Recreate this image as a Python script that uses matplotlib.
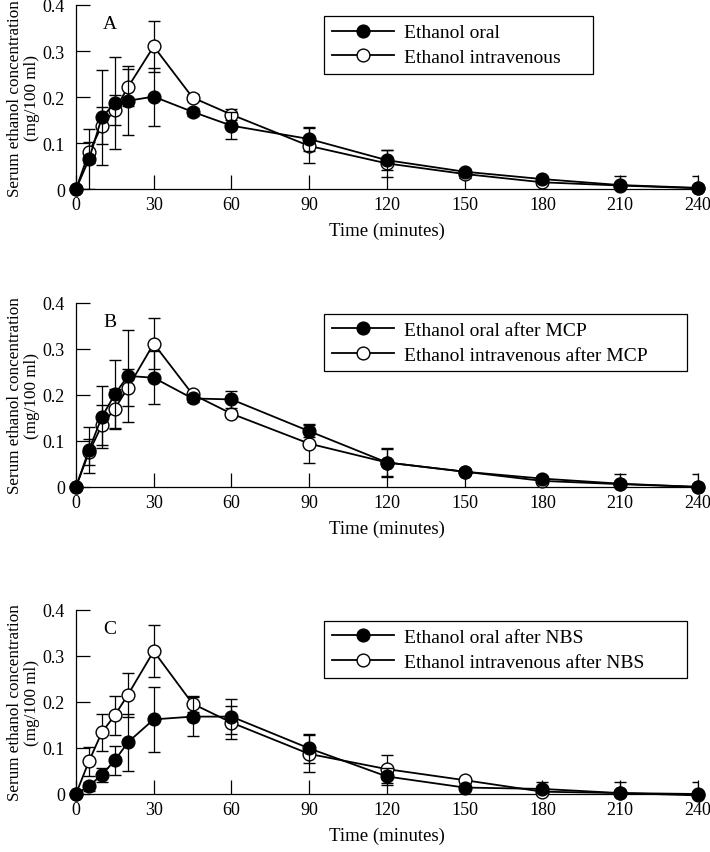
import matplotlib
matplotlib.use("Agg")
import matplotlib.pyplot as plt
from matplotlib.lines import Line2D

plt.rcParams['font.family'] = ['Liberation Serif', 'DejaVu Serif']

# time points (minutes)
t = [0, 5, 10, 15, 20, 30, 45, 60, 90, 120, 150, 180, 210, 240]

# panel A
oral_a = [0, 0.065, 0.156, 0.187, 0.192, 0.201, 0.168, 0.138, 0.109, 0.063, 0.038, 0.022, 0.009, 0.003]
oral_a_sd = [0, 0.065, 0.103, 0.10, 0.075, 0.063, 0.008, 0.03, 0.025, 0.022, 0.006, 0.005, 0.02, 0.026]
iv_a = [0, 0.08, 0.138, 0.172, 0.221, 0.31, 0.199, 0.162, 0.094, 0.056, 0.033, 0.015, 0.008, 0.002]
iv_a_sd = [0, 0.022, 0.04, 0.032, 0.04, 0.056, 0.008, 0.012, 0.038, 0.029, 0.008, 0.006, 0.004, 0.003]

# panel B
oral_b = [0, 0.080, 0.152, 0.201, 0.241, 0.237, 0.192, 0.190, 0.121, 0.053, 0.033, 0.018, 0.007, 0.0]
oral_b_sd = [0, 0.05, 0.067, 0.075, 0.1, 0.058, 0.008, 0.019, 0.013, 0.032, 0.006, 0.005, 0.02, 0.027]
iv_b = [0, 0.075, 0.134, 0.170, 0.215, 0.311, 0.201, 0.159, 0.094, 0.053, 0.033, 0.013, 0.006, 0.0]
iv_b_sd = [0, 0.028, 0.043, 0.043, 0.04, 0.056, 0.006, 0.008, 0.043, 0.03, 0.005, 0.005, 0.004, 0.003]

# panel C
oral_c = [0, 0.017, 0.042, 0.073, 0.112, 0.162, 0.168, 0.168, 0.099, 0.038, 0.014, 0.011, 0.002, 0.0]
oral_c_sd = [0, 0.01, 0.015, 0.032, 0.062, 0.071, 0.043, 0.038, 0.032, 0.018, 0.005, 0.016, 0.025, 0.027]
iv_c = [0, 0.071, 0.134, 0.171, 0.215, 0.310, 0.196, 0.155, 0.087, 0.054, 0.030, 0.005, 0.002, -0.003]
iv_c_sd = [0, 0.032, 0.04, 0.042, 0.047, 0.057, 0.017, 0.035, 0.04, 0.03, 0.004, 0.004, 0.003, 0.003]

panel_letters = ["A", "B", "C"]
oral_labels = ["Ethanol oral", "Ethanol oral after MCP", "Ethanol oral after NBS"]
iv_labels = ["Ethanol intravenous", "Ethanol intravenous after MCP", "Ethanol intravenous after NBS"]

x_ticks = [0, 30, 60, 90, 120, 150, 180, 210, 240]
y_ticks = [0, 0.1, 0.2, 0.3, 0.4]
y_ticklabels = ["0", "0.1", "0.2", "0.3", "0.4"]

panels = [
    (oral_a, oral_a_sd, iv_a, iv_a_sd),
    (oral_b, oral_b_sd, iv_b, iv_b_sd),
    (oral_c, oral_c_sd, iv_c, iv_c_sd),
]

fig = plt.figure(figsize=(7.1, 8.53), dpi=100)
bottoms = [0.777, 0.428, 0.068]
legend_widths = [0.432, 0.584, 0.584]
MS = 9.2

for i, (oral, oral_sd, iv, iv_sd) in enumerate(panels):
    ax = fig.add_axes([0.107, bottoms[i], 0.876, 0.216])

    for y, sd, fc, z in [(iv, iv_sd, "white", 3), (oral, oral_sd, "black", 4)]:
        line, caps, bars = ax.errorbar(t, y, yerr=sd, color="black", lw=1.3, marker="o",
                                       ms=MS, mfc=fc, mec="black", mew=1.0, ecolor="black",
                                       elinewidth=0.9, capsize=4, capthick=0.9, zorder=z)
        line.set_clip_on(False)
        for c in caps:
            c.set_clip_on(True)
        for b in bars:
            b.set_clip_on(True)

    ax.set_xlim(0, 240)
    ax.set_ylim(0, 0.4)
    ax.set_xticks(x_ticks)
    ax.set_yticks(y_ticks)
    ax.set_yticklabels(y_ticklabels)
    ax.tick_params(direction="in", length=10, width=0.9, labelsize=13)
    ax.tick_params(axis="x", pad=5)
    ax.tick_params(axis="y", pad=8)
    ax.spines["top"].set_visible(False)
    ax.spines["right"].set_visible(False)
    for s in ["left", "bottom"]:
        ax.spines[s].set_linewidth(0.9)

    ax.set_xlabel("Time (minutes)", fontsize=13.5, labelpad=6)
    ax.set_ylabel("Serum ethanol concentration\n(mg/100 ml)", fontsize=12.3, linespacing=1.1)
    ax.yaxis.set_label_coords(-0.058, 0.5)

    ax.text(0.055, 0.897, panel_letters[i], transform=ax.transAxes, fontsize=14,
            ha="center", va="center")

    handles = [
        Line2D([], [], color="black", lw=1.3, marker="o", ms=MS, mfc="black", mec="black"),
        Line2D([], [], color="black", lw=1.3, marker="o", ms=MS, mfc="white", mec="black"),
    ]
    leg = ax.legend(handles, [oral_labels[i], iv_labels[i]], loc="upper left",
                    bbox_to_anchor=(0.399, 0.94 - 0.31, legend_widths[i], 0.31),
                    mode="expand", borderaxespad=0, fontsize=14,
                    frameon=True, fancybox=False, framealpha=1, edgecolor="black",
                    handlelength=3.2, handletextpad=0.5, labelspacing=0.35,
                    borderpad=0.4)
    leg.get_frame().set_linewidth(0.9)

fig.savefig("out.png", dpi=100)
